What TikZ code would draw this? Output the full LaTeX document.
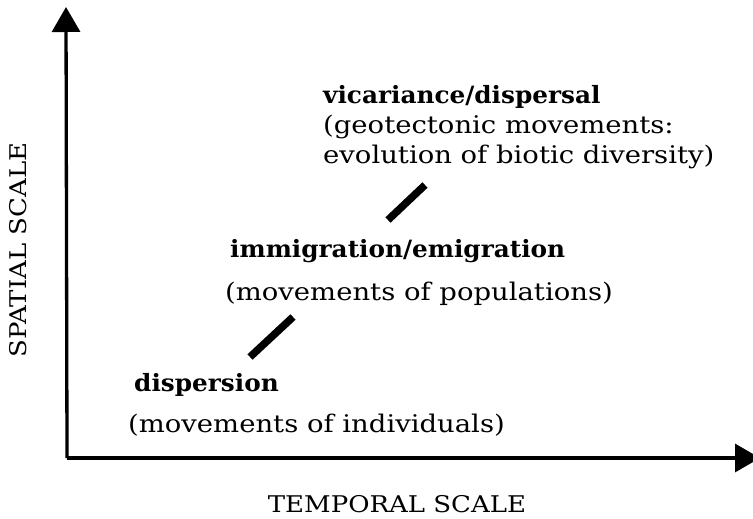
\documentclass[tikz,border=0pt]{standalone}
\usepackage{fontspec}
\setmainfont{DejaVu Serif}[FakeStretch=1.13, BoldFeatures={FakeStretch=1.04}]
\usetikzlibrary{arrows.meta}
\begin{document}
\begin{tikzpicture}[x=1pt,y=-1pt,
  axis/.style={line width=3.3pt, -{Triangle[length=25pt,width=28pt]}},
  lbl/.style={anchor=base west, inner sep=0pt, font=\fontsize{24.3}{30}\selectfont},
  head/.style={anchor=base west, inner sep=0pt, font=\fontsize{23.8}{30}\selectfont\bfseries},
  caption/.style={inner sep=0pt, font=\fontsize{23}{26}\selectfont},
  link/.style={line width=7.5pt}]
\useasboundingbox (0,0) rectangle (753,519);

% axes
\coordinate (origin) at (67,458);
\coordinate (ytip) at (66,7);
\coordinate (xtip) at (760,458);
\draw[axis] (origin) -- (ytip);
\draw[axis] (origin) -- (xtip);

% axis captions
\node[caption, anchor=base] (xcap) at (397,512) {TEMPORAL SCALE};
\node[caption, anchor=base, rotate=90] (ycap) at (27,250) {SPATIAL SCALE};

% top level
\node[head] (vic) at (323,103) {vicariance/dispersal};
\node[lbl] (vic1) at (323,133) {(geotectonic movements:};
\node[lbl] (vic2) at (323,163) {evolution of biotic diversity)};

% middle level
\node[head] (imm) at (230,257) {immigration/emigration};
\node[lbl] (imm1) at (225,300) {(movements of populations)};

% bottom level
\node[head] (dis) at (134,391) {dispersion};
\node[lbl] (dis1) at (128,432) {(movements of individuals)};

% links between levels
\coordinate (l1a) at (250,357);
\coordinate (l1b) at (293,317);
\coordinate (l2a) at (388,220);
\coordinate (l2b) at (425,185);
\draw[link] (l1a) -- (l1b);
\draw[link] (l2a) -- (l2b);
\end{tikzpicture}
\end{document}
